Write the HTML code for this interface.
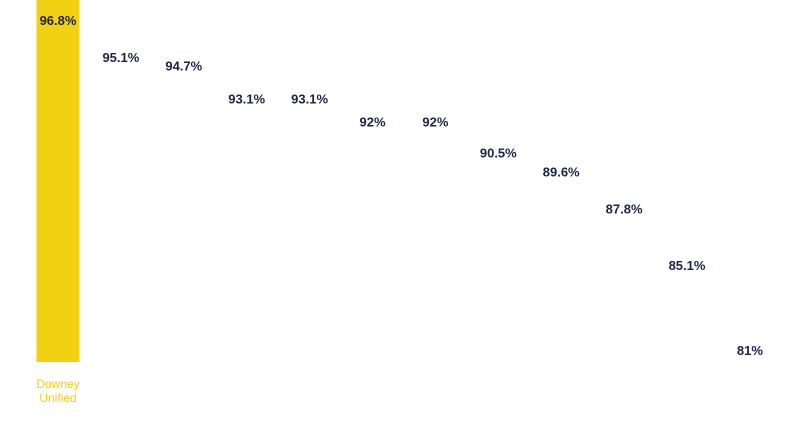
<!DOCTYPE html>
<html><head><meta charset="utf-8"><style>
html,body{margin:0;padding:0;background:#fff;width:800px;height:421px;overflow:hidden}
text{font-family:"Liberation Sans",sans-serif}
</style></head><body>
<svg id="chart" width="800" height="421"></svg>
<script>
const categories=["Downey Unified","District 2","District 3","District 4","District 5","District 6","District 7","District 8","District 9","District 10","District 11","District 12"];
const values=[96.8,95.1,94.7,93.1,93.1,92,92,90.5,89.6,87.8,85.1,81];
const valueLabels=["96.8%","95.1%","94.7%","93.1%","93.1%","92%","92%","90.5%","89.6%","87.8%","85.1%","81%"];
const NS="http://www.w3.org/2000/svg";
const svg=document.getElementById('chart');
const baseY=362, yMin=81, pxPerUnit=20.78, offset=34;
function yScale(v){return baseY-(v-yMin)*pxPerUnit-offset;}
function xScale(i){return 58+i*62.9;}
const bw=43;
values.forEach((v,i)=>{
  const top=Math.max(0,yScale(v));
  const r=document.createElementNS(NS,'rect');
  
  
  r.setAttribute('x',xScale(i)-bw/2);r.setAttribute('y',top);
  r.setAttribute('width',bw);r.setAttribute('height',Math.max(0,baseY-top));
  r.setAttribute('fill',i===0?'#F2D012':'#ffffff');
  svg.appendChild(r);
  const t=document.createElementNS(NS,'text');
  
  
  t.setAttribute('x',xScale(i));
  t.setAttribute('y',i===0?top+25:top+27);
  t.setAttribute('text-anchor','middle');
  t.setAttribute('font-size','13');t.setAttribute('font-weight','bold');
  t.setAttribute('fill','#1b2347');
  t.textContent=valueLabels[i];
  svg.appendChild(t);
});
const lab=document.createElementNS(NS,'text');


lab.setAttribute('x',xScale(0));lab.setAttribute('y',388);
lab.setAttribute('text-anchor','middle');lab.setAttribute('font-size','12');
lab.setAttribute('fill','#F2D012');
['Downey','Unified'].forEach((w,k)=>{const ts=document.createElementNS(NS,'tspan');ts.setAttribute('x',xScale(0));ts.setAttribute('dy',k?14:0);ts.textContent=w;lab.appendChild(ts);});
svg.appendChild(lab);
</script>
</body></html>
